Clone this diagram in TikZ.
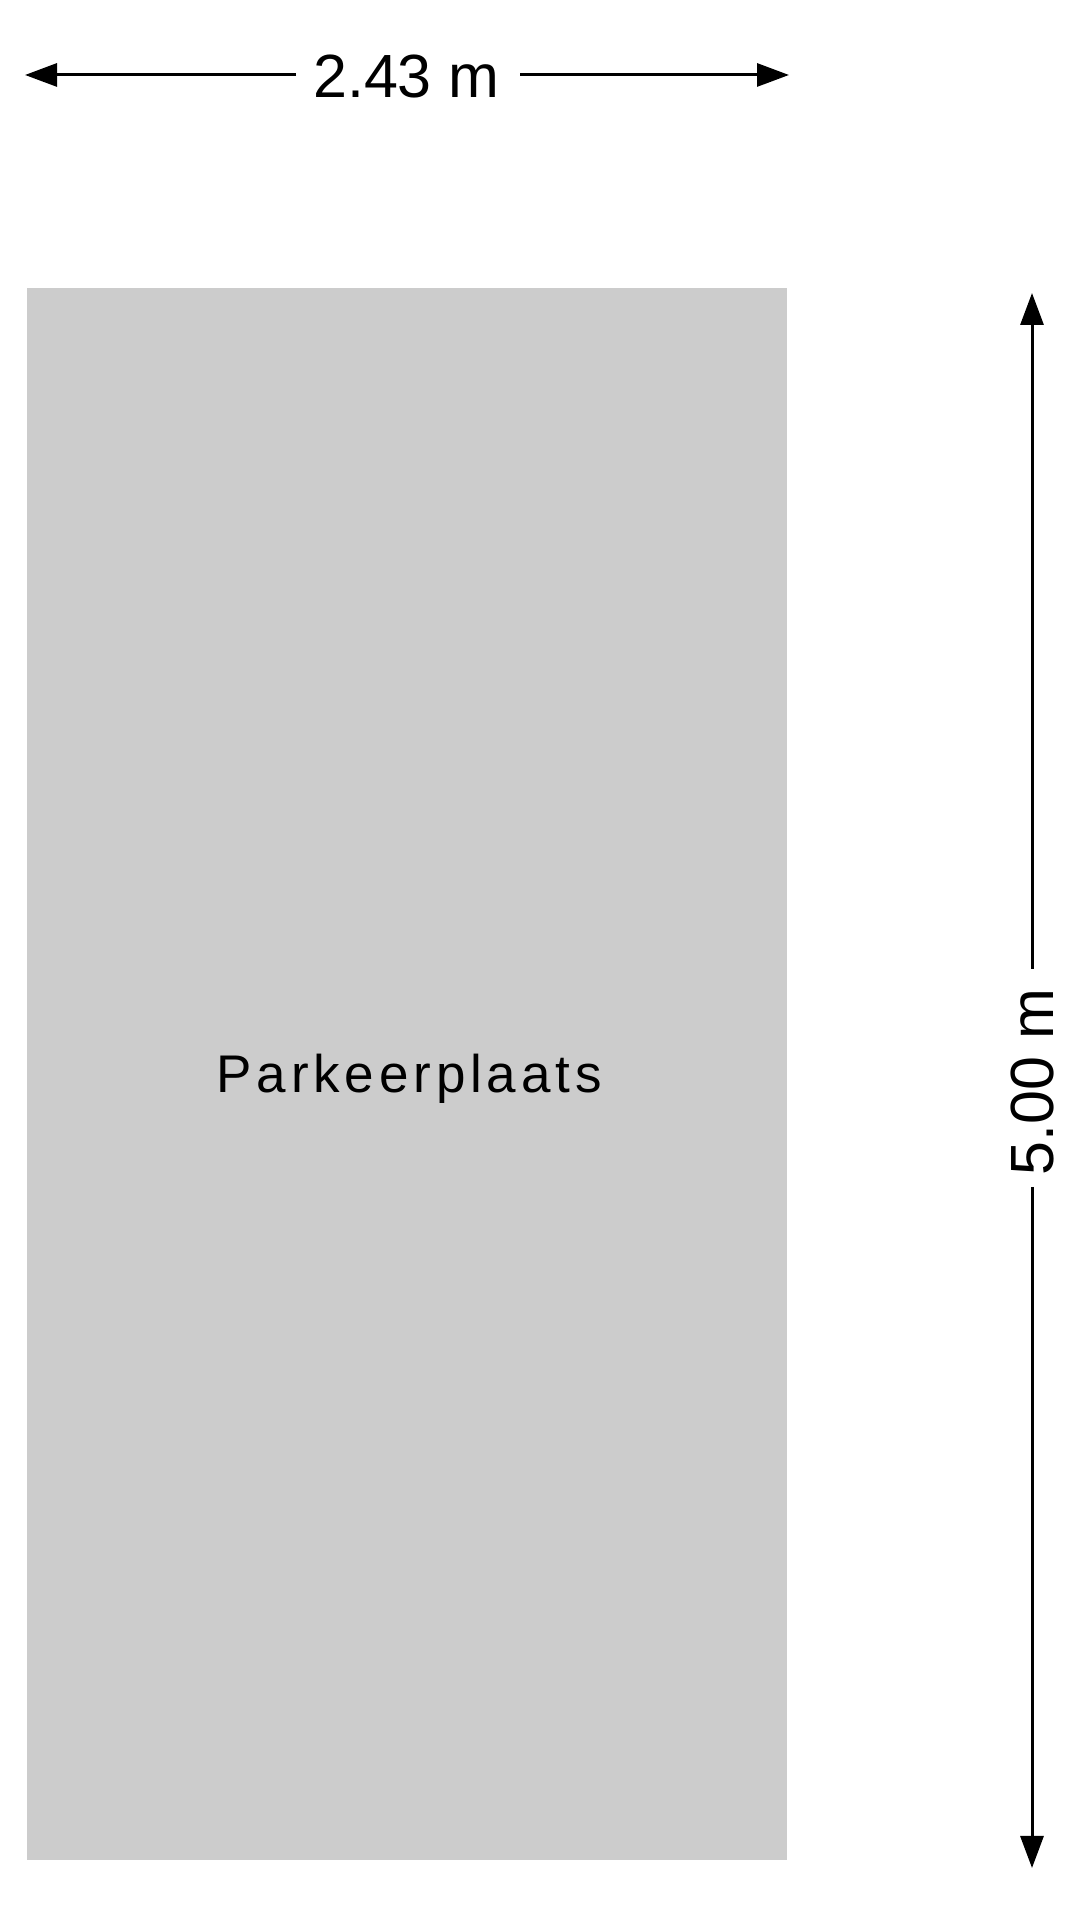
\documentclass[tikz,border=0pt]{standalone}
\usepackage{fontspec}
\setmainfont{Liberation Sans}
\newfontfamily\spacedfont[LetterSpace=9.1]{Liberation Sans}
\usetikzlibrary{arrows.meta}
\definecolor{spotgrey}{HTML}{CCCCCC}
\tikzset{
  dimline/.style={line width=3pt, draw=black, -{Triangle[length=32pt,width=23pt]}},
  dimtext/.style={inner sep=0pt, font=\fontsize{61}{73}\selectfont},
  roomtext/.style={inner sep=0pt, font=\spacedfont\fontsize{53}{64}\selectfont}
}
\begin{document}
\begin{tikzpicture}[x=1pt,y=1pt]
\useasboundingbox (0,0) rectangle (1080,1920);
% parking space
\fill[spotgrey] (27,60) rectangle (787,1632);
\node[roomtext, anchor=base west] (room) at (216.5,827) {Parkeerplaats};
% width dimension
\coordinate (tl) at (25,1845);
\coordinate (wa) at (296,1845);
\coordinate (wb) at (520,1845);
\coordinate (tr) at (789,1845);
\node[dimtext, anchor=base west] (wlabel) at (313,1822.7) {2.43 m};
\draw[dimline] (wa) -- (tl);
\draw[dimline] (wb) -- (tr);
% height dimension
\coordinate (ht) at (1032,1627);
\coordinate (ha) at (1032,951);
\coordinate (hb) at (1032,733);
\coordinate (hbot) at (1032,52);
\node[dimtext, rotate=90, anchor=base west] (hlabel) at (1053,744.4) {5.00 m};
\draw[dimline] (ha) -- (ht);
\draw[dimline] (hb) -- (hbot);
\end{tikzpicture}
\end{document}
